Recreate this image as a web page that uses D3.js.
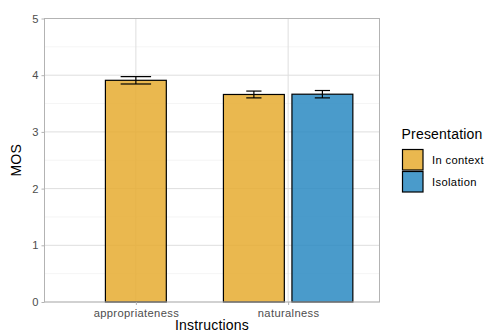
<!DOCTYPE html>
<html>
<head>
<meta charset="utf-8">
<script src="https://cdn.jsdelivr.net/npm/d3@7"></script>
<style>
  html, body { margin: 0; padding: 0; background: #fff; }
  svg { display: block; font-family: "Liberation Sans", Arial, sans-serif; }
</style>
</head>
<body>
<svg id="chart" width="484" height="334"></svg>
<script>
// Mean opinion scores by instruction type and presentation condition
const instructions = ["appropriateness", "naturalness"];
const presentations = ["In context", "Isolation"];
const barInstruction = ["appropriateness", "naturalness", "naturalness"];
const barPresentation = ["In context", "In context", "Isolation"];
const barMean = [3.91, 3.66, 3.665];
const barSE = [0.065, 0.06, 0.065];
const yTicks = [0, 1, 2, 3, 4, 5];
const fillColors = ["#E6AB30", "#2A89C2"];

const bars = barMean.map((m, i) => ({
  instr: barInstruction[i], pres: barPresentation[i], mean: m, se: barSE[i]
}));

const svg = d3.select("#chart");
const panel = { left: 44.5, top: 18.5, right: 379.5, bottom: 302 };
const tickFont = { size: 11.2, spacing: 0.35 };

// discrete x scale with ggplot-style 0.6 expansion on each side
const x = d3.scaleLinear()
  .domain([0.4, instructions.length + 0.6])
  .range([panel.left, panel.right]);
const y = d3.scaleLinear().domain([0, 5]).range([panel.bottom, panel.top]);
const color = d3.scaleOrdinal().domain(presentations).range(fillColors);

// grid: minor lines at half steps, major at integer ticks
const g = svg.append("g");
const minor = d3.range(0.5, 5, 1);
g.selectAll("line.minor").data(minor).join("line")
  .attr("x1", panel.left).attr("x2", panel.right)
  .attr("y1", d => y(d)).attr("y2", d => y(d))
  .attr("stroke", "#ededed").attr("stroke-width", 0.6);
g.selectAll("line.major").data(yTicks).join("line")
  .attr("x1", panel.left).attr("x2", panel.right)
  .attr("y1", d => y(d)).attr("y2", d => y(d))
  .attr("stroke", "#dedede").attr("stroke-width", 1);
g.selectAll("line.vmajor").data(instructions).join("line")
  .attr("x1", (d, i) => x(i + 1)).attr("x2", (d, i) => x(i + 1))
  .attr("y1", panel.top).attr("y2", panel.bottom)
  .attr("stroke", "#dedede").attr("stroke-width", 1);

// bars dodged within each instruction; single bars keep the same width and sit centred
const dodgeWidth = 0.9, barWidth = 0.8;
const maxN = d3.max(instructions, ins => bars.filter(b => b.instr === ins).length);
function placement(d) {
  const group = bars.filter(b => b.instr === d.instr);
  const n = group.length;
  const k = group.indexOf(d);
  const center = instructions.indexOf(d.instr) + 1;
  const slot = dodgeWidth / maxN;
  const c = center + slot * (k - (n - 1) / 2);
  const w = barWidth / maxN;
  return { c, w, n };
}

svg.append("g").selectAll("rect").data(bars).join("rect")
  .attr("x", d => { const p = placement(d); return x(p.c - p.w / 2); })
  .attr("width", d => { const p = placement(d); return x(p.c + p.w / 2) - x(p.c - p.w / 2); })
  .attr("y", d => y(d.mean))
  .attr("height", d => y(0) - y(d.mean))
  .attr("fill", d => color(d.pres))
  .attr("fill-opacity", 0.85)
  .attr("stroke", "#000").attr("stroke-width", 1.2);

// error bars (mean ± SE); whisker width 0.2 shared among the bars of a group
const eb = svg.append("g").attr("stroke", "#000").attr("stroke-width", 1.2);
bars.forEach(d => {
  const p = placement(d);
  const whisker = 0.2 / p.n;
  const cx = x(p.c);
  const hw = x(p.c + whisker / 2) - x(p.c);
  const lo = y(d.mean - d.se), hi = y(d.mean + d.se);
  eb.append("line").attr("x1", cx).attr("x2", cx).attr("y1", lo).attr("y2", hi);
  eb.append("line").attr("x1", cx - hw).attr("x2", cx + hw).attr("y1", hi).attr("y2", hi);
  eb.append("line").attr("x1", cx - hw).attr("x2", cx + hw).attr("y1", lo).attr("y2", lo);
});

// panel border
svg.append("rect")
  .attr("x", panel.left).attr("y", panel.top)
  .attr("width", panel.right - panel.left).attr("height", panel.bottom - panel.top)
  .attr("fill", "none").attr("stroke", "#b3b3b3").attr("stroke-width", 1);

// y axis
const yAxis = svg.append("g")
  .attr("transform", `translate(${panel.left},0)`)
  .call(d3.axisLeft(y).tickValues(yTicks).tickSize(3).tickPadding(3).tickFormat(d3.format("d")));
yAxis.select(".domain").remove();
yAxis.selectAll("line").attr("stroke", "#b3b3b3");
yAxis.selectAll("text").attr("fill", "#4d4d4d").attr("font-size", tickFont.size)
  .attr("font-family", "Liberation Sans, Arial, sans-serif");

// x axis at category centres
const xAxis = svg.append("g")
  .attr("transform", `translate(0,${panel.bottom})`)
  .call(d3.axisBottom(x).tickValues(instructions.map((d, i) => i + 1))
    .tickSize(3).tickPadding(4).tickFormat(v => instructions[v - 1]));
xAxis.select(".domain").remove();
xAxis.selectAll("line").attr("stroke", "#b3b3b3");
xAxis.selectAll("text").attr("fill", "#4d4d4d").attr("font-size", tickFont.size)
  .attr("letter-spacing", tickFont.spacing)
  .attr("font-family", "Liberation Sans, Arial, sans-serif");

// axis titles
svg.append("text")
  .attr("x", (panel.left + panel.right) / 2).attr("y", 330)
  .attr("text-anchor", "middle").attr("font-size", 14).attr("letter-spacing", 0.2)
  .attr("fill", "#000")
  .text("Instructions");
svg.append("text")
  .attr("transform", `translate(21,${(panel.top + panel.bottom) / 2}) rotate(-90)`)
  .attr("text-anchor", "middle").attr("font-size", 14).attr("letter-spacing", 0.2)
  .attr("fill", "#000")
  .text("MOS");

// legend
const lg = svg.append("g").attr("transform", "translate(401.5,0)");
lg.append("text").attr("x", 0).attr("y", 138.5)
  .attr("font-size", 14).attr("letter-spacing", 0.2).attr("fill", "#000").text("Presentation");
presentations.forEach((p, i) => {
  const top = 149 + i * 22;
  lg.append("rect").attr("x", 1).attr("y", top + 0.5)
    .attr("width", 20.5).attr("height", 20.5)
    .attr("fill", color(p)).attr("fill-opacity", 0.85)
    .attr("stroke", "#000").attr("stroke-width", 1.2);
  lg.append("text").attr("x", 30.5).attr("y", top + 15)
    .attr("font-size", tickFont.size).attr("letter-spacing", tickFont.spacing)
    .attr("fill", "#000").text(p);
});
</script>
</body>
</html>
